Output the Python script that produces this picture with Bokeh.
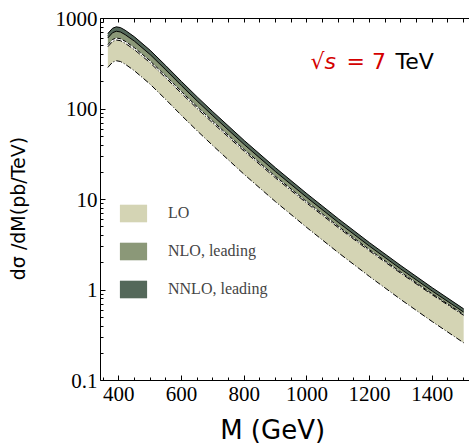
from bokeh.plotting import figure
from bokeh.models import LinearAxis, FixedTicker, Legend, LegendItem, Label
from bokeh.embed import file_html
from bokeh.resources import INLINE

mass = [365, 380, 392, 405, 420, 450, 500, 550, 600, 650, 700, 800, 900,
        1000, 1100, 1200, 1300, 1400, 1500]
lo_low = [287.7, 328.9, 341.2, 335.0, 313.3, 264.2, 187.9, 127.1, 84.9, 57.4,
          39.4, 18.92, 9.44, 4.89, 2.588, 1.406, 0.783, 0.447, 0.261]
lo_high = [487.5, 557.2, 578.1, 568.9, 533.3, 451.6, 323.7, 220.6, 148.6, 101.2,
           69.9, 34.14, 17.29, 9.09, 4.89, 2.697, 1.526, 0.884, 0.525]
nlo_low = [512.9, 586.1, 608.1, 597.9, 560.7, 474.6, 339.6, 231.1, 155.5, 105.8,
           73.0, 35.55, 17.97, 9.42, 5.05, 2.781, 1.570, 0.906, 0.537]
nlo_high = [651.6, 744.7, 772.7, 758.8, 710.0, 598.9, 426.4, 288.5, 193.0, 130.6,
            89.6, 43.1, 21.57, 11.18, 5.93, 3.227, 1.801, 1.029, 0.603]
nnlo_low = [609.5, 696.6, 722.8, 710.0, 664.2, 560.8, 399.3, 270.3, 180.9, 122.5,
            84.1, 40.5, 20.3, 10.52, 5.59, 3.045, 1.701, 0.972, 0.570]
nnlo_high = [682.3, 779.8, 809.1, 794.3, 743.0, 626.6, 445.6, 301.3, 201.4, 136.1,
             93.3, 44.9, 22.4, 11.59, 6.14, 3.33, 1.858, 1.059, 0.619]

series_names = ["LO", "NLO, leading", "NNLO, leading"]
x_ticks = [400, 600, 800, 1000, 1200, 1400]
x_minor = list(range(350, 1551, 50))
y_ticks = [0.1, 1, 10, 100, 1000]
y_tick_labels = ["0.1", "1", "10", "100", "1000"]

fill_colors = ["#D4D4B4", "#8B9878", "#54685A"]
serif = "Liberation Serif"
sans = "DejaVu Sans"
NB = "\u00a0"

p = figure(width=469, height=447, x_range=(341.6, 1518.6), y_range=(0.1, 1000),
           y_axis_type="log", output_backend="svg", toolbar_location=None,
           min_border_left=100, min_border_right=0, min_border_top=18,
           min_border_bottom=59)
p.outline_line_color = None
p.grid.visible = False
p.background_fill_color = "white"

bands = [(lo_low, lo_high, "6 2 1 2"), (nlo_low, nlo_high, "4 2"),
         (nnlo_low, nnlo_high, "solid")]
legend_items = []
for (lo, hi, dash), col, name in zip(bands, fill_colors, series_names):
    r = p.varea(x=mass, y1=lo, y2=hi, fill_color=col)
    p.line(mass, lo, line_color="black", line_width=1, line_dash=dash)
    p.line(mass, hi, line_color="black", line_width=1, line_dash=dash)
    legend_items.append(LegendItem(label=name, renderers=[r]))

legend = Legend(items=legend_items, location=(16, 80), padding=0, margin=0,
                glyph_width=34, glyph_height=22, spacing=16, label_standoff=18,
                label_text_font=serif, label_text_font_size="16px",
                background_fill_alpha=0, border_line_color=None)
p.add_layout(legend, "center")

# axes
xa = p.xaxis[0]
xa.ticker = FixedTicker(ticks=x_ticks, minor_ticks=x_minor)
ya = p.yaxis[0]
ya.ticker = FixedTicker(ticks=y_ticks,
                        minor_ticks=[m * t for t in [0.1, 1, 10, 100] for m in range(2, 10)])
ya.major_label_overrides = {t: s for t, s in zip(y_ticks, y_tick_labels)}

for ax in (xa, ya):
    ax.major_tick_in = 5
    ax.major_tick_out = 0
    ax.minor_tick_in = 3
    ax.minor_tick_out = 0
    ax.axis_line_color = "black"
    ax.major_tick_line_color = "black"
    ax.minor_tick_line_color = "black"
    ax.major_label_text_font = serif
    ax.major_label_text_font_size = "21px"
    ax.major_label_text_color = "black"
    ax.axis_label_text_font = sans
    ax.axis_label_text_font_style = "normal"
    ax.axis_label_text_color = "black"

xa.major_label_standoff = 6
xa.axis_label = "M (GeV)" + NB * 3
xa.axis_label_text_font_size = "26px"
xa.axis_label_standoff = 11

ya.major_label_standoff = 3
ya.axis_label = "dσ /dM(pb/TeV)" + NB * 3
ya.axis_label_text_font_size = "19px"
ya.axis_label_standoff = 24

top = LinearAxis(ticker=FixedTicker(ticks=[], minor_ticks=x_minor))
top.major_tick_in = 0
top.major_tick_out = 0
top.minor_tick_in = 4
top.minor_tick_out = 0
top.axis_line_color = "black"
top.minor_tick_line_color = "black"
p.add_layout(top, "above")

# energy annotation (frame-relative screen units)
def add_text(x, y, text, size, style="normal", color="black"):
    p.add_layout(Label(x=x, y=y, x_units="screen", y_units="screen", text=text,
                       text_font=sans, text_font_size=size, text_font_style=style,
                       text_color=color, text_baseline="alphabetic",
                       text_align="left"))

red = "#D40000"
add_text(210, 319, "√", "22px", color=red)
add_text(224, 319, "s", "22px", "italic", color=red)
add_text(246, 319, "= 7", "22px", color=red)
add_text(295, 319, "TeV", "22px")

open("out.html", "w").write(file_html(p, INLINE))
